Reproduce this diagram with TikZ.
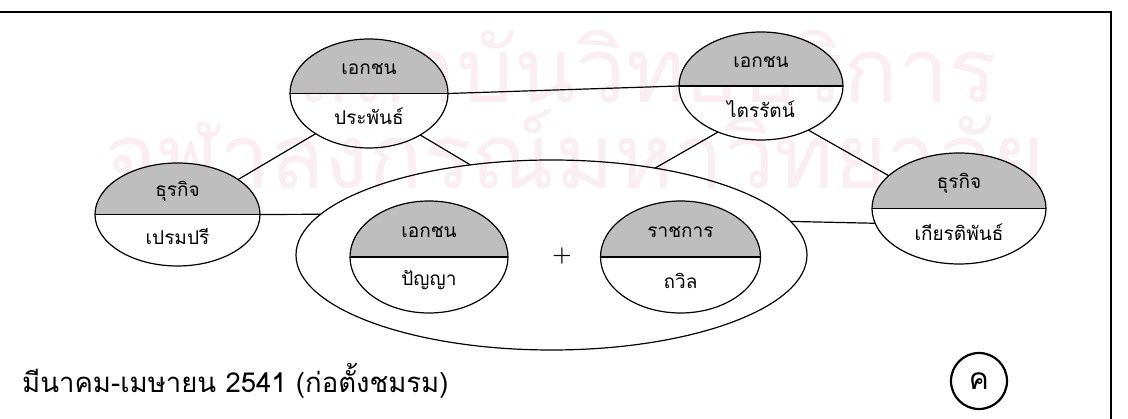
\documentclass[tikz,border=0pt]{standalone}
\usepackage{fontspec}
\newfontfamily\thai[Script=Thai]{Loma}
\usetikzlibrary{shapes.geometric}
\definecolor{wmpink}{RGB}{250,238,242}
\definecolor{shadegray}{RGB}{190,190,190}
\tikzset{
  splitell/.style={ellipse, draw, line width=1.2pt, inner sep=0pt, outer sep=0pt},
  divline/.style={line width=1.2pt},
  toplabel/.style={font=\thai\fontsize{19}{19}\selectfont},
  botlabel/.style={font=\thai\fontsize{19}{19}\selectfont},
  link/.style={line width=1.2pt},
  frameline/.style={line width=1.8pt},
  wmark/.style={text=wmpink, font=\thai\fontsize{90}{90}\selectfont},
  caption/.style={font=\thai\fontsize{27.5}{27.5}\selectfont},
}
% name, x, y, rx, ry, top text, bottom text
\newcommand{\splitnode}[7]{%
  \fill[shadegray] (#2-#4,#3) arc[start angle=180,end angle=0,x radius=#4,y radius=#5] -- cycle;
  \node[splitell,minimum width=2*#4,minimum height=2*#5] (#1) at (#2,#3) {};
  \draw[divline] (#1.west) -- (#1.east);
  \node[toplabel] (#1-top) at (#2,#3+0.45*#5) {#6};
  \node[botlabel] (#1-bot) at (#2,#3-0.42*#5) {#7};
}
\begin{document}
\begin{tikzpicture}[x=1pt,y=1pt]
\useasboundingbox (0,0) rectangle (1128,419);
\fill[white] (0,0) rectangle (1128,419);

%WATERMARK
  \node[wmark] (wm1) at (647,352) {สถาบันวิทยบริการ};
  \node[wmark] (wm2) at (575,258) {จุฬาลงกรณ์มหาวิทยาลัย};

%FRAME
  \draw[frameline] (0,407) -- (1111,407) -- (1111,0);

%CLUB
  \node[splitell, minimum width=511, minimum height=190] (club) at (551.5,164) {};
  \splitnode{panya}{429}{162}{79}{56}{เอกชน}{ปัญญา}
  \splitnode{thawin}{680.5}{162}{80}{56}{ราชการ}{ถวิล}
  \node[font=\bfseries\fontsize{22}{22}\selectfont] (plus) at (562,163) {+};

%MEMBERS
  \splitnode{prapan}{369}{325.5}{79}{54.5}{เอกชน}{ประพันธ์}
  \splitnode{trai}{761}{333}{82}{54}{เอกชน}{ไตรรัตน์}
  \splitnode{premp}{177.5}{204.5}{82.5}{51.5}{ธุรกิจ}{เปรมปรี}
  \splitnode{kiat}{959}{210.5}{87}{55.5}{ธุรกิจ}{เกียรติพันธ์}

%LINKS
  \draw[link] (prapan.east) -- (trai.west);
  \draw[link] (prapan.217) -- (premp.30);
  \draw[link] (prapan.-39) -- (club.132);
  \draw[link] (trai.227) -- (club.40);
  \draw[link] (trai.-43) -- (kiat.155);
  \draw[link] (premp.east) -- (club.170);
  \draw[link] (club.8) -- (kiat.190);

%CAPTION
  \node[caption, anchor=base west, inner sep=0pt] (date) at (22,26) {มีนาคม-เมษายน 2541 (ก่อตั้งชมรม)};
  \node[draw, circle, line width=2.2pt, minimum size=56, inner sep=0pt, font=\thai\fontsize{30}{30}\selectfont] (kho) at (979,38) {ค};
\end{tikzpicture}
\end{document}
